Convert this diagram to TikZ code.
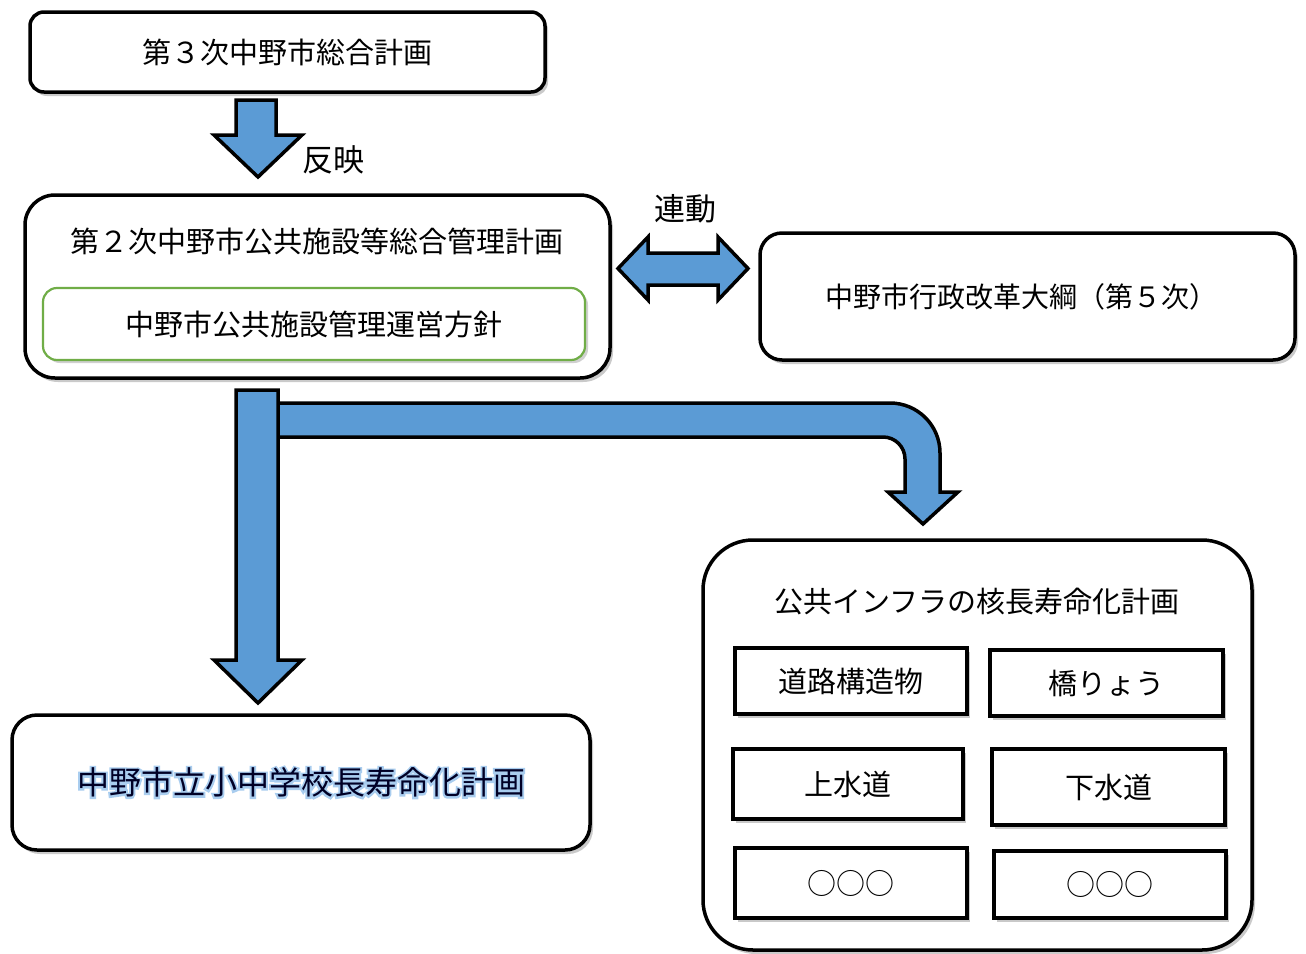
\documentclass[tikz,border=0pt]{standalone}
\usepackage{fontspec}
\setmainfont{Noto Sans CJK JP}
\newfontfamily\glowfont[FakeBold=12]{Noto Sans CJK JP}
\usetikzlibrary{shadows}
\definecolor{arrowblue}{HTML}{5B9BD5}
\definecolor{policygreen}{HTML}{70AD47}
\definecolor{glowblue}{HTML}{A9CDEF}

\tikzset{
	every node/.style={font=\fontsize{29}{34}\selectfont},
	plan/.style={draw=black, fill=white, line width=3.5pt, rounded corners=#1,
		drop shadow={shadow xshift=3pt, shadow yshift=-4pt, fill=black!60, opacity=0.35}},
	plan/.default=14pt,
	policy/.style={draw=policygreen, fill=white, line width=2.2pt, rounded corners=14pt,
		drop shadow={shadow xshift=3pt, shadow yshift=-3pt, fill=black!60, opacity=0.3}},
	infra/.style={draw=black, fill=white, line width=4.5pt,
		drop shadow={shadow xshift=3pt, shadow yshift=-4pt, fill=black!60, opacity=0.35}},
	blockarrow/.style={draw=black, fill=arrowblue, line width=3.5pt, line join=miter},
	tag/.style={font=\fontsize{31}{36}\selectfont}
}

\begin{document}
\begin{tikzpicture}[x=1pt, y=-1pt]
		\useasboundingbox (0,0) rectangle (1306,953);
		
		% plans
		\node [plan=14pt, minimum width=515pt, minimum height=80pt] (plan3) at (287.5,52) {第３次中野市総合計画};
		\node [plan=30pt, minimum width=585pt, minimum height=183pt] (plan2) at (317.5,286.5) {};
		\node (plan2title) at (317,241) {第２次中野市公共施設等総合管理計画};
		\node [policy, minimum width=542pt, minimum height=72pt] (policy) at (314,324) {中野市公共施設管理運営方針};
		\node [plan=22pt, minimum width=535pt, minimum height=127pt, font=\fontsize{28}{33}\selectfont] (reform) at (1027.5,296.5) {\hspace*{-12pt}中野市行政改革大綱（第５次）};
		\node [plan=25pt, minimum width=578pt, minimum height=135pt] (school) at (301,782.5) {};
		\node [plan=50pt, minimum width=549pt, minimum height=410pt] (infra) at (977.5,745) {};
		\node (infratitle) at (977,602) {公共インフラの核長寿命化計画};
		
		% school title with glow
		\node [text=glowblue, font=\glowfont\fontsize{32}{37}\selectfont] (schoolglow) at (school) {中野市立小中学校長寿命化計画};
		\node [text=black!85!blue, font=\fontsize{32}{37}\selectfont] (schooltitle) at (school) {中野市立小中学校長寿命化計画};
		
		% infrastructure plans
		\node [infra, minimum width=232pt, minimum height=66pt] (road) at (851,681) {道路構造物};
		\node [infra, minimum width=233pt, minimum height=66pt] (bridge) at (1106.5,683) {橋りょう};
		\node [infra, minimum width=230pt, minimum height=70pt] (water) at (848,784) {上水道};
		\node [infra, minimum width=233pt, minimum height=76pt] (sewer) at (1108.5,787) {下水道};
		\node [infra, minimum width=232pt, minimum height=70pt] (other1) at (851,883) {○○○};
		\node [infra, minimum width=232pt, minimum height=67pt] (other2) at (1110,884.5) {○○○};
		
		% arrows
		\draw [blockarrow] (236,100) -- (276,100) -- (276,135) -- (302,135) -- (258,177) -- (214,135) -- (236,135) -- cycle;
		\node [tag] (reflect) at (333,160) {反映};
		
		\draw [blockarrow] (618,268.5) -- (648,237) -- (648,253) -- (718,253) -- (718,237) -- (748,268.5)
			-- (718,300) -- (718,285) -- (648,285) -- (648,300) -- cycle;
		\node [tag] (link) at (685,209) {連動};
		
		\draw [blockarrow] (272,403) [rounded corners=50pt] -- (940,403) [sharp corners] -- (940,492) -- (958,492)
			-- (923,524) -- (888,492) -- (905,492) [rounded corners=22pt] -- (905,437) [sharp corners] -- (272,437) -- cycle;
		\draw [blockarrow] (236,390) -- (278,390) -- (278,660) -- (302,660) -- (258,703) -- (214,660) -- (236,660) -- cycle;
\end{tikzpicture}
\end{document}
